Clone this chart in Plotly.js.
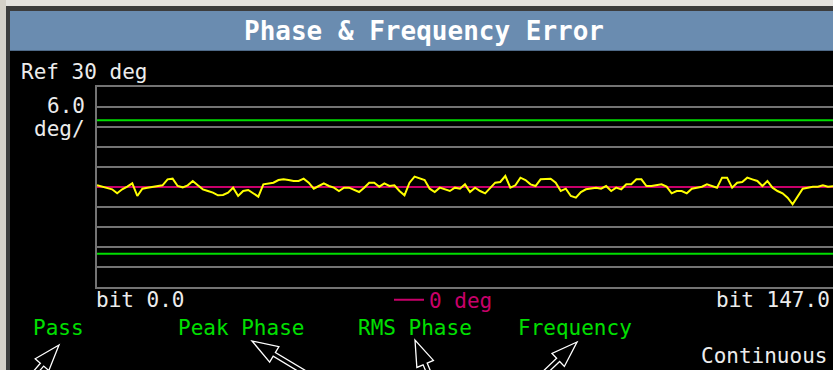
<!DOCTYPE html>
<html>
<head>
<meta charset="utf-8">
<script src="https://cdn.plot.ly/plotly-3.0.1.min.js"></script>
<style>
html,body{margin:0;padding:0;background:#000;overflow:hidden;width:833px;height:370px;}
#chart{width:845px;height:370px;}
</style>
</head>
<body>
<div id="chart"></div>
<script>
// ---- data ----
const chartTitle = "Phase & Frequency Error";
const bitRange = [0, 147];              // bit 0.0 .. bit 147.0
const refDeg = 30;                      // Ref 30 deg (top of screen)
const degPerDiv = 6;                    // 6.0 deg/
const limitUpper = [20, 20];            // green limit lines (deg)
const limitLower = [-20, -20];
const zeroRef = [0, 0];                 // 0 deg reference line
const phaseError = [
  0.5,0.1,-0.2,-0.7,-1.9,-0.7,0.1,1.1,-2.7,-0.5,
  -0.2,0.1,0.3,0.5,2.3,2.5,0.3,-0.1,0.5,1.8,
  0.5,-0.7,-1.2,-1.7,-2.5,-2.4,-1.7,-0.2,-2.7,-1.2,
  -0.9,-1.9,-2.9,0.8,1.1,1.3,2.1,
  2.3,2.1,1.8,1.8,2.5,1.3,-0.5,0.3,1.1,0.3,
  -0.2,-1.2,-0.2,-0.2,-0.9,-1.5,-0.2,1.3,1.3,0.1,
  1.1,0.3,0.5,-1.2,-2.5,1.3,3.1,2.5,2.1,-0.5,
  -1.5,-0.2,-0.7,-1.2,-0.2,-0.5,0.8,
  -1.5,-0.2,-1.2,-1.9,-0.2,1.3,1.5,3.3,-0.2,0.5,
  2.8,2.1,0.8,0.3,2.3,2.3,2.5,1.3,-1.2,-0.5,
  -2.7,-3.2,-1.5,-0.7,-0.5,-0.2,-0.5,0.3,-1.2,-0.2,
  -0.7,0.8,0.8,2.3,2.3,0.3,
  0.3,0.5,0.8,0.1,-1.9,-1.2,-1.2,-1.9,-0.5,-0.2,
  0.1,0.8,0.3,-0.2,2.8,2.8,-0.2,1.3,1.5,2.8,
  2.3,1.8,0.3,1.8,-0.2,-1.2,-1.9,-3.2,-5.2,-2.7,
  -0.5,-0.2,0.1,0.1,0.5,0.1,0.3,0.3
];
const bits = phaseError.map((_, i) => i);
const statusLabels = ["Pass", "Peak Phase", "RMS Phase", "Frequency"];
const refLabel = "Ref 30 deg";
const scaleLabels = ["6.0", "deg/"];
const xLabels = ["bit 0.0", "bit 147.0"];
const modeLabel = "Continuous";

// ---- layout geometry ----
const W = 845, H = 370;
const M = {l: 97, r: 7, t: 87, b: 83};
const PW = W - M.l - M.r, PH = H - M.t - M.b;
const fx = px => (px - M.l) / PW;
const fy = py => (H - M.b - py) / PH;

const FONT = "DejaVu Sans Mono, Liberation Mono, monospace";
const WHITE = "#ececec", GREEN = "#00e000", MAGENTA = "#c8006a", GRID = "#737373";

const traces = [
  {x: bitRange, y: limitUpper, mode: "lines", line: {color: "#00dd00", width: 2}, showlegend: false, hoverinfo: "skip"},
  {x: bitRange, y: limitLower, mode: "lines", line: {color: "#00dd00", width: 2}, showlegend: false, hoverinfo: "skip"},
  {x: bitRange, y: zeroRef, mode: "lines", name: "0 deg", line: {color: MAGENTA, width: 2}, showlegend: true},
  {x: bits, y: phaseError, mode: "lines", line: {color: "#ffff00", width: 2}, showlegend: false}
];

function rect(x0, y0, x1, y1, color) {
  return {type: "rect", xref: "paper", yref: "paper", layer: "below",
    x0: fx(x0), x1: fx(x1), y0: fy(y1), y1: fy(y0), fillcolor: color, line: {width: 0}};
}
function arrow(tx, ty, dx, dy) {
  const n = Math.hypot(dx, dy); const ux = dx / n, uy = dy / n; const nx = -uy, ny = ux;
  const L = 26, w = 9, s = 2.2, len = 70;
  const p = [
    [tx, ty],
    [tx + ux*L + nx*w, ty + uy*L + ny*w],
    [tx + ux*L + nx*s, ty + uy*L + ny*s],
    [tx + ux*len + nx*s, ty + uy*len + ny*s],
    [tx + ux*len - nx*s, ty + uy*len - ny*s],
    [tx + ux*L - nx*s, ty + uy*L - ny*s],
    [tx + ux*L - nx*w, ty + uy*L - ny*w]
  ];
  const path = p.map((q, i) => (i ? "L" : "M") + fx(q[0]).toFixed(5) + "," + fy(q[1]).toFixed(5)).join(" ") + " Z";
  return {type: "path", xref: "paper", yref: "paper", layer: "above", path: path,
    fillcolor: "#000", line: {color: "#ffffff", width: 1.3}};
}

const shapes = [
  rect(0, 0, 845, 370, "#000000"),
  rect(0, 0, 845, 6, "#e4e2de"),
  rect(0, 0, 6, 370, "#d4d0c8"),
  rect(6, 6, 845, 11, "#3c3c3c"),
  rect(6, 6, 10, 370, "#3c3c3c"),
  rect(10, 11, 845, 50, "#6a8cb0"),
  rect(10, 50, 845, 51, "#4f6a88"),
  arrow(59, 345, -19, 22),
  arrow(252, 341, 25, 15),
  arrow(415, 340, 11, 26),
  arrow(577, 342, -20, 19)
];

function txt(text, px, py, anchor, color) {
  return {text: text, xref: "paper", yref: "paper", x: fx(px), y: fy(py),
    xanchor: anchor, yanchor: "middle", showarrow: false,
    font: {family: FONT, size: 21, color: color}};
}
const statusX = [31, 176, 356, 516];
const annotations = [
  txt(refLabel, 19, 72, "left", WHITE),
  txt(scaleLabels[0], 87, 106, "right", WHITE),
  txt(scaleLabels[1], 87, 129, "right", WHITE),
  txt(xLabels[0], 94, 300, "left", WHITE),
  txt(xLabels[1], 832, 300, "right", WHITE),
  txt(modeLabel, 699, 356, "left", WHITE)
].concat(statusLabels.map((s, i) => txt(s, statusX[i], 328, "left", GREEN)));

const layout = {
  width: W, height: H,
  margin: M,
  paper_bgcolor: "#000", plot_bgcolor: "#000",
  title: {text: chartTitle, x: 424 / W, xref: "container", xanchor: "center",
    y: 1 - 31 / H, yref: "container", yanchor: "middle",
    font: {family: FONT, size: 26, color: "#ffffff", weight: "bold"}},
  xaxis: {range: bitRange, showgrid: false, zeroline: false, showticklabels: false, ticks: "",
    showline: true, mirror: true, linecolor: GRID, linewidth: 2},
  yaxis: {range: [-refDeg, refDeg], dtick: degPerDiv, tick0: 0, showgrid: true, gridcolor: GRID, gridwidth: 2,
    zeroline: false, showticklabels: false, ticks: "", showline: true, mirror: true, linecolor: GRID, linewidth: 2},
  showlegend: true,
  legend: {orientation: "h", x: fx(389), xanchor: "left", y: fy(300), yanchor: "middle",
    bgcolor: "rgba(0,0,0,0)", font: {family: FONT, size: 21, color: MAGENTA}},
  shapes: shapes,
  annotations: annotations
};

Plotly.newPlot("chart", traces, layout, {displayModeBar: false, staticPlot: true});
</script>
</body>
</html>
